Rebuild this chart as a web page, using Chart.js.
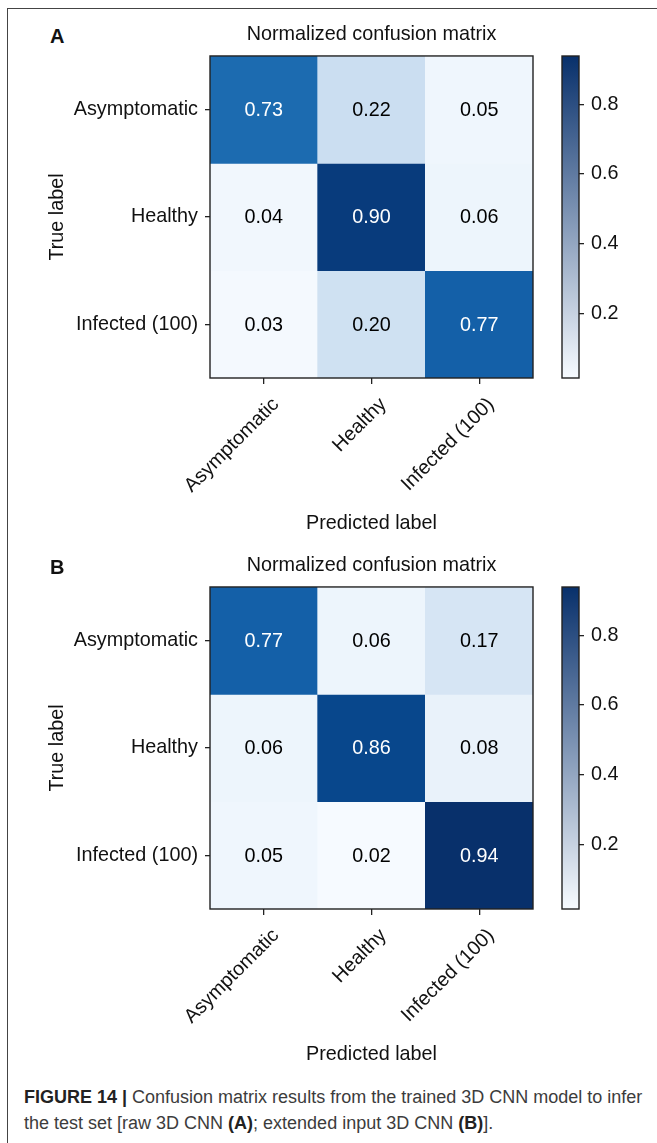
<!DOCTYPE html>
<html>
<head>
<meta charset="utf-8">
<title>Normalized confusion matrices</title>
<script src="https://cdn.jsdelivr.net/npm/chart.js@4.4.1/dist/chart.umd.min.js"></script>
<style>
  html, body { margin: 0; padding: 0; background: #fff; }
  body { width: 657px; height: 1143px; position: relative; overflow: hidden;
         font-family: 'Liberation Sans', Arial, Helvetica, sans-serif; }
  #frame { position: absolute; left: 7px; top: 8px; width: 700px; height: 1200px;
           border-top: 1px solid #444; border-left: 1px solid #444; }
  .panel { position: absolute; left: 0; width: 657px; height: 540px; }
  .panel canvas { position: absolute; top: 0; }
  .letter { position: absolute; left: 50px; top: 25px; font-weight: bold; font-size: 20px;
            line-height: 22px; color: #111; }
  #caption { position: absolute; left: 24px; top: 1084px; font-size: 18px; line-height: 26px;
             color: #3c3c3c; white-space: nowrap; }
  #caption b { color: #222; }
</style>
</head>
<body>
<div id="frame"></div>

<div class="panel" style="top:0px">
  <div class="letter">A</div>
  <canvas id="heatA" width="657" height="540" style="left:0;width:657px;height:540px"></canvas>
  <canvas id="barA" width="117" height="540" style="left:540px;width:117px;height:540px"></canvas>
</div>

<div class="panel" style="top:531px">
  <div class="letter">B</div>
  <canvas id="heatB" width="657" height="540" style="left:0;width:657px;height:540px"></canvas>
  <canvas id="barB" width="117" height="540" style="left:540px;width:117px;height:540px"></canvas>
</div>

<div id="caption"><b>FIGURE 14 |</b> Confusion matrix results from the trained 3D CNN model to infer<br>the test set [raw 3D CNN <b>(A)</b>; extended input 3D CNN <b>(B)</b>].</div>

<script>
// ---- data ----
const predictedLabels = ['Asymptomatic', 'Healthy', 'Infected (100)'];
const trueLabels = ['Asymptomatic', 'Healthy', 'Infected (100)'];
const matrixA = [
  [0.73, 0.22, 0.05],
  [0.04, 0.90, 0.06],
  [0.03, 0.20, 0.77]
];
const matrixB = [
  [0.77, 0.06, 0.17],
  [0.06, 0.86, 0.08],
  [0.05, 0.02, 0.94]
];
const colorbarRange = [0.014, 0.939];
const colorbarTicks = [0.2, 0.4, 0.6, 0.8];
const panelTitle = 'Normalized confusion matrix';
const xAxisTitle = 'Predicted label';
const yAxisTitle = 'True label';

// ---- styling ----
const FAMILY = "'Liberation Sans', Arial, Helvetica, sans-serif";
const FONT = { family: FAMILY, size: 19.8 };
const INK = '#111';
Chart.defaults.font.family = FAMILY;
Chart.defaults.color = INK;

// matplotlib "Blues" colour map
const BLUES = ['#f7fbff', '#deebf7', '#c6dbef', '#9ecae1', '#6baed6',
               '#4292c6', '#2171b5', '#08519c', '#08306b'];
const BLUES_RGB = BLUES.map(h => [1, 3, 5].map(i => parseInt(h.slice(i, i + 2), 16)));
function blues(t) {
  t = Math.min(1, Math.max(0, t));
  const s = t * (BLUES_RGB.length - 1);
  const i = Math.min(Math.floor(s), BLUES_RGB.length - 2);
  const f = s - i;
  const a = BLUES_RGB[i], b = BLUES_RGB[i + 1];
  const c = a.map((v, k) => Math.round(v + (b[k] - v) * f));
  return `rgb(${c[0]},${c[1]},${c[2]})`;
}
function norm(v) {
  return (v - colorbarRange[0]) / (colorbarRange[1] - colorbarRange[0]);
}

// value labels inside the cells
const cellText = {
  id: 'cellText',
  afterDatasetsDraw(chart, args, opts) {
    const { ctx } = chart;
    const m = opts.matrix;
    const thresh = Math.max(...m.flat()) / 2;
    ctx.save();
    ctx.font = `${FONT.size}px ${FAMILY}`;
    ctx.textAlign = 'center';
    ctx.textBaseline = 'middle';
    chart.data.datasets.forEach((ds, r) => {
      chart.getDatasetMeta(r).data.forEach((el, c) => {
        const v = m[r][c];
        ctx.fillStyle = v > thresh ? '#ffffff' : '#000000';
        ctx.fillText(v.toFixed(2), el.x, (el.y + el.base) / 2 + 1);
      });
    });
    ctx.restore();
  }
};
// box around the plotting area
const areaBox = {
  id: 'areaBox',
  afterDatasetsDraw(chart) {
    const a = chart.chartArea;
    const { ctx } = chart;
    ctx.save();
    ctx.strokeStyle = '#222';
    ctx.lineWidth = 1.4;
    ctx.strokeRect(a.left, a.top, a.right - a.left, a.bottom - a.top);
    ctx.restore();
  }
};

function heatmap(id, matrix) {
  return new Chart(document.getElementById(id), {
    type: 'bar',
    data: {
      labels: predictedLabels,
      datasets: trueLabels.map((row, r) => ({
        label: row,
        data: predictedLabels.map(() => [r - 0.5, r + 0.5]),
        backgroundColor: matrix[r].map(v => blues(norm(v))),
        borderWidth: 0,
        barPercentage: 1,
        categoryPercentage: 1,
        grouped: false
      }))
    },
    options: {
      responsive: false,
      animation: false,
      layout: { padding: { left: 0, right: 124, top: 0, bottom: 0 } },
      plugins: {
        legend: { display: false },
        tooltip: { enabled: false },
        title: {
          display: true, text: panelTitle, fullSize: false, color: INK,
          font: { family: FAMILY, size: FONT.size, weight: 'normal' },
          padding: { top: 22.5, bottom: 9.7 }
        },
        cellText: { matrix }
      },
      scales: {
        x: {
          type: 'category',
          offset: true,
          grid: { offset: false, drawOnChartArea: false, drawTicks: true, tickLength: 6,
                  color: '#222', lineWidth: 1.3 },
          border: { display: false },
          ticks: { font: FONT, color: INK, maxRotation: 45, minRotation: 45,
                   autoSkip: false, padding: 9, labelOffset: 12 },
          title: { display: true, text: xAxisTitle, font: FONT, color: INK,
                   padding: { top: 0, bottom: 5 } },
          afterFit(s) { s.height = 162; }
        },
        y: {
          type: 'linear',
          min: -0.5, max: 2.5, reverse: true,
          grid: { drawOnChartArea: false, drawTicks: true, tickLength: 5,
                  color: '#222', lineWidth: 1.3 },
          border: { display: false },
          afterBuildTicks(axis) { axis.ticks = trueLabels.map((_, i) => ({ value: i })); },
          ticks: { font: FONT, color: INK, padding: 7,
                   callback: v => trueLabels[v] },
          title: { display: true, text: yAxisTitle, font: FONT, color: INK,
                   padding: { top: 46, bottom: 0 } },
          afterFit(s) { s.width = 210; }
        }
      }
    },
    plugins: [cellText, areaBox]
  });
}

function colorbar(id) {
  return new Chart(document.getElementById(id), {
    type: 'bar',
    data: {
      labels: [''],
      datasets: [{
        data: [colorbarRange],
        borderWidth: 0,
        barPercentage: 1,
        categoryPercentage: 1,
        backgroundColor(ctx) {
          const a = ctx.chart.chartArea;
          if (!a) return '#8397b5';
          const g = ctx.chart.ctx.createLinearGradient(0, a.bottom, 0, a.top);
          g.addColorStop(0, '#f7fbff');
          g.addColorStop(1, '#08306b');
          return g;
        }
      }]
    },
    options: {
      responsive: false,
      animation: false,
      layout: { padding: { left: 22, right: 0, top: 56, bottom: 162 } },
      plugins: { legend: { display: false }, tooltip: { enabled: false } },
      scales: {
        x: { display: false },
        y: {
          type: 'linear', position: 'right',
          min: colorbarRange[0], max: colorbarRange[1],
          grid: { drawOnChartArea: false, drawTicks: true, tickLength: 5,
                  color: '#222', lineWidth: 1.3 },
          border: { display: false },
          afterBuildTicks(axis) { axis.ticks = colorbarTicks.map(v => ({ value: v })); },
          ticks: { font: FONT, color: INK, padding: 7, callback: v => v.toFixed(1) },
          afterFit(s) { s.width = 78; }
        }
      }
    },
    plugins: [areaBox]
  });
}

heatmap('heatA', matrixA);
colorbar('barA');
heatmap('heatB', matrixB);
colorbar('barB');
</script>
</body>
</html>
